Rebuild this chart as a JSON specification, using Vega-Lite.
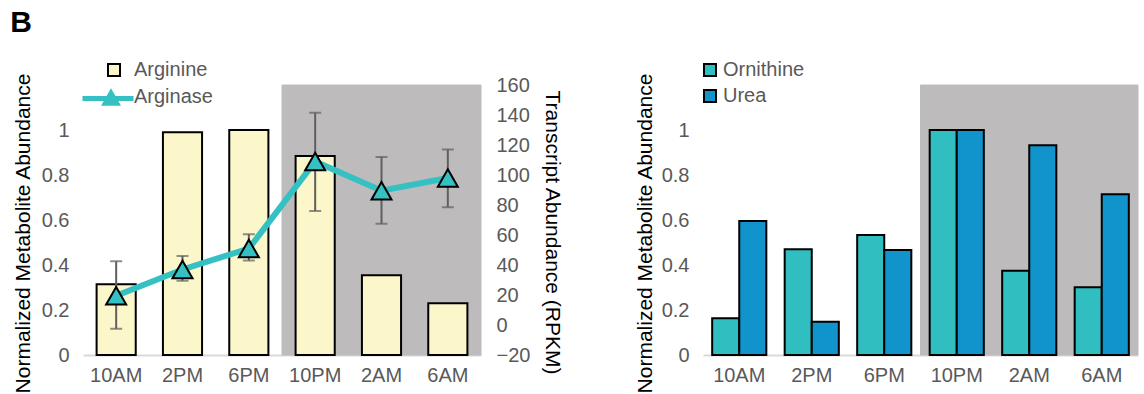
{
  "$schema": "https://vega.github.io/schema/vega-lite/v6.json",
  "padding": {"left": 10, "top": 8, "right": 0, "bottom": 0},
  "title": {"text": "B", "anchor": "start", "fontSize": 30, "fontWeight": "bold", "color": "black", "offset": 22, "dx": -2},
  "spacing": 71,
  "resolve": {"scale": {"fill": "independent", "x": "independent", "y": "independent"}, "legend": {"fill": "independent"}},
  "datasets": {
    "left": [
      {"time": "10AM", "phase": "day", "arginine": 0.315, "arginase": 19.5, "lo": -2.5, "hi": 42.5},
      {"time": "2PM", "phase": "day", "arginine": 0.99, "arginase": 37, "lo": 29.5, "hi": 46},
      {"time": "6PM", "phase": "day", "arginine": 1.0, "arginase": 51, "lo": 43, "hi": 60.5},
      {"time": "10PM", "phase": "night", "arginine": 0.885, "arginase": 109, "lo": 76, "hi": 141.5},
      {"time": "2AM", "phase": "night", "arginine": 0.355, "arginase": 89.5, "lo": 67.5, "hi": 112},
      {"time": "6AM", "phase": "night", "arginine": 0.23, "arginase": 98, "lo": 78.5, "hi": 117}
    ],
    "right": [
      {"time": "10AM", "phase": "day", "series": "Ornithine", "value": 0.163},
      {"time": "10AM", "phase": "day", "series": "Urea", "value": 0.596},
      {"time": "2PM", "phase": "day", "series": "Ornithine", "value": 0.47},
      {"time": "2PM", "phase": "day", "series": "Urea", "value": 0.148},
      {"time": "6PM", "phase": "day", "series": "Ornithine", "value": 0.533},
      {"time": "6PM", "phase": "day", "series": "Urea", "value": 0.467},
      {"time": "10PM", "phase": "night", "series": "Ornithine", "value": 1.0},
      {"time": "10PM", "phase": "night", "series": "Urea", "value": 1.0},
      {"time": "2AM", "phase": "night", "series": "Ornithine", "value": 0.375},
      {"time": "2AM", "phase": "night", "series": "Urea", "value": 0.932},
      {"time": "6AM", "phase": "night", "series": "Ornithine", "value": 0.301},
      {"time": "6AM", "phase": "night", "series": "Urea", "value": 0.714}
    ]
  },
  "hconcat": [
    {
      "width": 398,
      "height": 270,
      "data": {"name": "left"},
      "encoding": {
        "x": {
          "field": "time", "type": "nominal",
          "scale": {"domain": ["10AM", "2PM", "6PM", "10PM", "2AM", "6AM"], "paddingInner": 0, "paddingOuter": 0},
          "axis": {"title": null, "labelAngle": 0, "ticks": false, "domainColor": "#d9d9d9", "domainWidth": 2, "labelPadding": 10}
        }
      },
      "layer": [
        {
          "encoding": {
            "y": {
              "type": "quantitative",
              "scale": {"domain": [0, 1.2], "nice": false, "zero": true},
              "axis": {"title": "Normalized Metabolite Abundance", "values": [0, 0.2, 0.4, 0.6, 0.8, 1], "format": "~g", "grid": false, "domain": false, "ticks": false, "labelPadding": 14, "titlePadding": 8, "titleY": 148}
            }
          },
          "layer": [
            {
              "transform": [{"filter": "datum.phase === 'night'"}],
              "mark": {"type": "bar", "color": "#bebbbc", "stroke": "#bebbbc", "strokeWidth": 1},
              "encoding": {"y": {"datum": 1.2}}
            },
            {
              "mark": {"type": "bar", "width": {"band": 0.59}, "stroke": "black", "strokeWidth": 2},
              "encoding": {
                "y": {"field": "arginine"},
                "fill": {
                  "datum": "Arginine",
                  "scale": {"domain": ["Arginine"], "range": ["#fbf7cb"]},
                  "legend": {"orient": "none", "legendX": 21, "legendY": -25, "title": null, "symbolType": "square", "symbolSize": 144, "symbolStrokeColor": "black", "symbolStrokeWidth": 2, "labelOffset": 10, "padding": 0}
                }
              }
            }
          ]
        },
        {
          "encoding": {
            "y": {
              "type": "quantitative",
              "scale": {"domain": [-20, 160], "nice": false, "zero": false},
              "axis": {"orient": "right", "title": "Transcript Abundance (RPKM)", "values": [-20, 0, 20, 40, 60, 80, 100, 120, 140, 160], "grid": false, "domain": false, "ticks": false, "labelPadding": 15, "titlePadding": 12, "titleY": 147}
            }
          },
          "layer": [
            {
              "mark": {"type": "rule", "color": "#5f5f5f", "strokeWidth": 2},
              "encoding": {"y": {"field": "lo"}, "y2": {"field": "hi"}}
            },
            {
              "mark": {"type": "tick", "color": "#5f5f5f", "thickness": 2, "size": 12, "orient": "horizontal"},
              "encoding": {"y": {"field": "lo"}}
            },
            {
              "mark": {"type": "tick", "color": "#5f5f5f", "thickness": 2, "size": 12, "orient": "horizontal"},
              "encoding": {"y": {"field": "hi"}}
            },
            {
              "mark": {"type": "line", "strokeWidth": 6},
              "encoding": {
                "y": {"field": "arginase"},
                "stroke": {
                  "datum": "Arginase trend",
                  "scale": {"domain": ["Arginase trend"], "range": ["#35c0c3"]},
                  "legend": {"orient": "none", "legendX": -3, "legendY": -14.5, "title": null, "symbolType": "stroke", "symbolSize": 2601, "symbolStrokeWidth": 5, "labelOpacity": 0, "padding": 0}
                }
              }
            },
            {
              "mark": {"type": "point", "filled": true, "fill": "#35c0c3", "stroke": "black", "strokeWidth": 2, "size": 400, "opacity": 1},
              "encoding": {
                "y": {"field": "arginase"},
                "shape": {
                  "datum": "Arginase",
                  "scale": {"domain": ["Arginase"], "range": ["triangle-up"]},
                  "legend": {"orient": "none", "legendX": 17, "legendY": 1, "title": null, "symbolSize": 400, "symbolFillColor": "#35c0c3", "symbolStrokeColor": "black", "symbolStrokeWidth": 2, "labelOffset": 12, "padding": 0}
                }
              }
            }
          ]
        }
      ],
      "resolve": {"scale": {"y": "independent"}}
    },
    {
      "width": 435,
      "height": 270,
      "data": {"name": "right"},
      "encoding": {
        "x": {
          "field": "time", "type": "nominal",
          "scale": {"domain": ["10AM", "2PM", "6PM", "10PM", "2AM", "6AM"], "paddingInner": 0, "paddingOuter": 0},
          "axis": {"title": null, "labelAngle": 0, "ticks": false, "domainColor": "#d9d9d9", "domainWidth": 2, "labelPadding": 10}
        },
        "y": {
          "type": "quantitative",
          "scale": {"domain": [0, 1.2], "nice": false},
          "axis": {"title": "Normalized Metabolite Abundance", "values": [0, 0.2, 0.4, 0.6, 0.8, 1], "format": "~g", "grid": false, "domain": false, "ticks": false, "labelPadding": 14, "titlePadding": 6, "titleY": 148}
        }
      },
      "layer": [
        {
          "transform": [{"filter": "datum.phase === 'night' && datum.series === 'Urea'"}],
          "mark": {"type": "bar", "color": "#bebbbc", "stroke": "#bebbbc", "strokeWidth": 1},
          "encoding": {"y": {"datum": 1.2}}
        },
        {
          "mark": {"type": "bar", "stroke": "black", "strokeWidth": 2},
          "encoding": {
            "y": {"field": "value"},
            "xOffset": {"field": "series", "scale": {"paddingInner": 0, "paddingOuter": 0.339}},
            "fill": {
              "field": "series",
              "scale": {"domain": ["Ornithine", "Urea"], "range": ["#31bec1", "#1193cb"]},
              "legend": {"orient": "none", "legendX": -3, "legendY": -25, "title": null, "symbolType": "square", "symbolSize": 144, "symbolStrokeColor": "black", "symbolStrokeWidth": 2, "labelOffset": 3, "padding": 0}
            }
          }
        }
      ]
    }
  ],
  "config": {
    "font": "Liberation Sans",
    "view": {"stroke": null},
    "axis": {"labelFontSize": 20, "labelColor": "#595959", "titleFontSize": 21, "titleFontWeight": "normal", "titleColor": "black"},
    "legend": {"labelFontSize": 20, "labelColor": "#595959", "rowPadding": 6}
  }
}
